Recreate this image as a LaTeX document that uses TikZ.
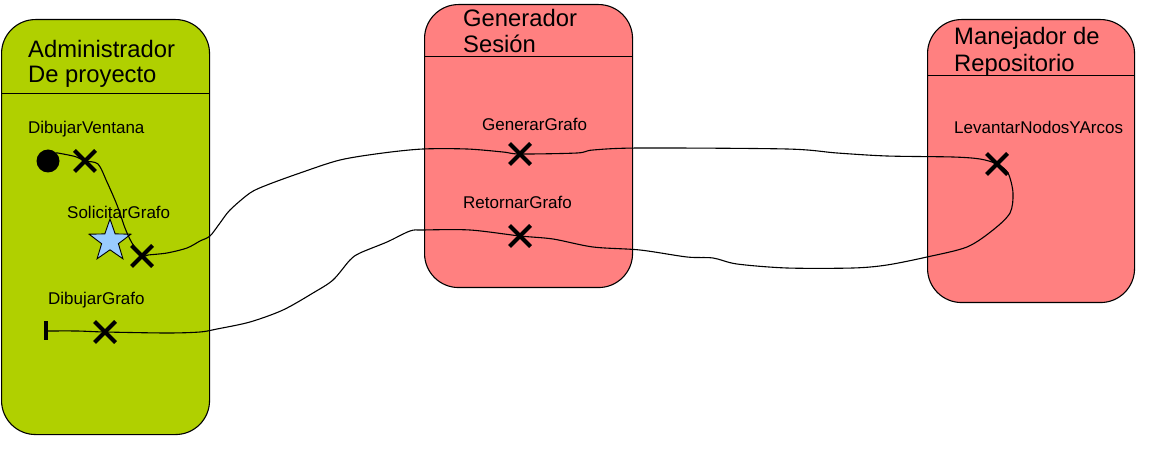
\documentclass[tikz,border=0pt]{standalone}
\usepackage{fontspec}
\setmainfont{Liberation Sans}
\usetikzlibrary{shapes.misc,shapes.geometric}
\definecolor{admgreen}{RGB}{176,208,0}
\definecolor{lanered}{RGB}{255,128,128}
\definecolor{starblue}{RGB}{153,204,255}
\begin{document}
\begin{tikzpicture}[x=1pt,y=-1pt,
  lane/.style={draw=black, line width=1.1pt, rounded corners=34pt, inner sep=0pt, anchor=north west},
  divider/.style={draw=black, line width=1pt},
  titletext/.style={anchor=base west, inner sep=0pt, font=\fontsize{23.8}{26}\selectfont},
  optext/.style={anchor=base west, inner sep=0pt, font=\fontsize{17}{19}\selectfont},
  xmark/.style={cross out, draw=black, line width=4pt, minimum size=17pt, inner sep=0pt},
  flow/.style={draw=black, line width=1.1pt, smooth, tension=0.5},
  startdot/.style={circle, fill=black, minimum size=23pt, inner sep=0pt},
  endbar/.style={rectangle, fill=black, minimum width=3.6pt, minimum height=19pt, inner sep=0pt},
  starmark/.style={star, star points=5, star point ratio=2.5, draw=black, line width=0.9pt, fill=starblue, minimum size=44pt, inner sep=0pt}
]
\useasboundingbox (0,0) rectangle (1154,462);

% lanes
\node[lane, fill=admgreen, minimum width=208pt, minimum height=415pt] (adm) at (1,19) {};
\node[lane, fill=lanered, minimum width=208pt, minimum height=283pt] (gen) at (424,4) {};
\node[lane, fill=lanered, minimum width=207pt, minimum height=283pt] (man) at (927,19) {};

\draw[divider] (adm.west |- 0,94) -- (adm.east |- 0,94);
\draw[divider] (gen.west |- 0,57) -- (gen.east |- 0,57);
\draw[divider] (man.west |- 0,76) -- (man.east |- 0,76);

% titles
\node[titletext] (t1a) at (28,58) {Administrador};
\node[titletext] (t1b) at (28,83) {De proyecto};
\node[titletext] (t2a) at (463,27) {Generador};
\node[titletext] (t2b) at (463,53) {Sesión};
\node[titletext] (t3a) at (954,45) {Manejador de};
\node[titletext] (t3b) at (954,72) {Repositorio};

% operation labels
\node[optext] (l1) at (28,134) {DibujarVentana};
\node[optext] (l2) at (67,219) {SolicitarGrafo};
\node[optext] (l3) at (48,305) {DibujarGrafo};
\node[optext] (l4) at (482,131) {GenerarGrafo};
\node[optext] (l5) at (463,209) {RetornarGrafo};
\node[optext] (l6) at (954,134) {LevantarNodosYArcos};

% markers
\node[startdot] (dot) at (48,161) {};
\node[starmark] (st) at (110,241) {};
\node[endbar] (bar) at (46,331) {};

% connector anchor points
\coordinate (x1p) at (85,161);
\coordinate (x2p) at (142,256);
\coordinate (x3p) at (105,332);
\coordinate (g1p) at (520,154);
\coordinate (r1p) at (520,236);
\coordinate (v1p) at (997,164);

\draw[flow] plot coordinates {(dot.north east) (75,156.5) (x1p) (98,164) (107,182) (117,205) (125,228) (132,243) (x2p) (148,255) (167,253) (187,248) (200,241) (210,236) (220,223) (230,210) (250,193) (267,185) (300,173) (340,160) (383,153) (423,149) (467,149) (503,152) (g1p) (577,153) (593,150) (640,148) (787,149) (837,153) (887,156) (953,157) (980,159) (v1p) (1008,173) (1013,193) (1010,213) (993,230) (967,247) (927,257) (887,265) (853,268) (787,268) (737,264) (713,258) (687,257) (640,250) (593,247) (553,239) (r1p) (470,230) (423,230) (410,231) (387,242) (360,253) (350,260) (333,280) (313,293) (283,310) (250,322) (217,329) (200,332) (167,333) (x3p) (77,331) (bar.east)};

\node[xmark] (x1) at (x1p) {};
\node[xmark] (x2) at (x2p) {};
\node[xmark] (x3) at (x3p) {};
\node[xmark] (g1) at (g1p) {};
\node[xmark] (r1) at (r1p) {};
\node[xmark] (v1) at (v1p) {};
\end{tikzpicture}
\end{document}
